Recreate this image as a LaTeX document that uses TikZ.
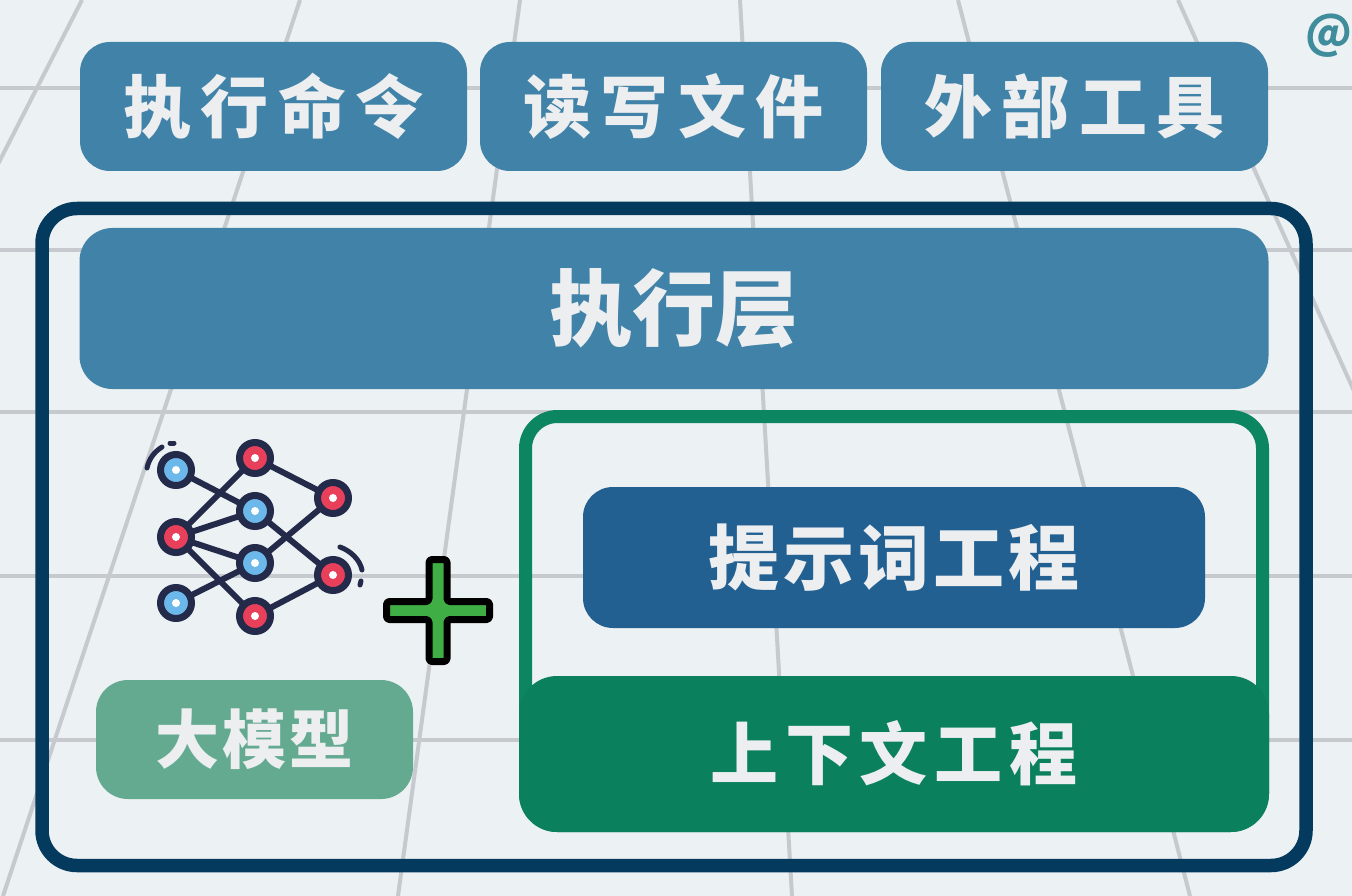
\documentclass[tikz,border=0pt]{standalone}
\usepackage{fontspec}
\newfontfamily\cjk{Noto Sans CJK SC Black}
\usetikzlibrary{positioning}

\definecolor{paper}{HTML}{ECF1F3}
\definecolor{labeltext}{HTML}{ECEEF0}
\definecolor{gridline}{HTML}{C6C9CD}
\definecolor{framedark}{HTML}{053A5F}
\definecolor{steelbox}{HTML}{4082A8}
\definecolor{promptbox}{HTML}{236092}
\definecolor{contextgreen}{HTML}{0A805C}
\definecolor{ringgreen}{HTML}{0C8660}
\definecolor{modelgreen}{HTML}{63AA90}
\definecolor{netdark}{HTML}{232A4A}
\definecolor{netred}{HTML}{E8405A}
\definecolor{netblue}{HTML}{6CB8EA}
\definecolor{plusgreen}{HTML}{3FAE44}
\definecolor{markteal}{HTML}{3F8C9C}

\tikzset{
  gridrule/.style={draw=gridline,line width=4pt},
  box/.style={rectangle,inner sep=0pt,outer sep=0pt,text=labeltext},
  toolbox/.style={box,fill=steelbox,minimum width=387pt,minimum height=129pt,rounded corners=30pt,
    font=\cjk\fontsize{68}{68}\selectfont\addfontfeature{LetterSpace=14}},
  netnode/.style={circle,draw=netdark,line width=7pt,minimum size=31pt,inner sep=0pt,outer sep=0pt,
    path picture={\fill[white] (path picture bounding box.center) circle (4pt);}},
  rednode/.style={netnode,fill=netred},
  bluenode/.style={netnode,fill=netblue},
  netedge/.style={draw=netdark,line width=6pt},
  netarc/.style={draw=netdark,line width=5pt,line cap=round}
}

\begin{document}
\begin{tikzpicture}[x=1pt,y=-1pt]
  \useasboundingbox (0,0) rectangle (1352,896);
  \fill[paper] (0,0) rectangle (1352,896);

  % floor
  \foreach \y in {88,250,412,576,740}
    \draw[gridrule] (0,\y) -- (1352,\y);
  \draw[gridrule] (82,0) -- (-4,168);
  \draw[gridrule] (300,0) -- (3,896);
  \draw[gridrule] (520,0) -- (398,896);
  \draw[gridrule] (740,0) -- (792,896);
  \draw[gridrule] (958,0) -- (1190,896);
  \draw[gridrule] (1178,0) -- (1354,391);

  \node[font=\cjk\fontsize{45}{45}\selectfont,text=markteal,inner sep=0pt] (mark) at (1328.5,36) {@};

  \node[toolbox] (0) at (273.5,106.5) {执行命令};
  \node[toolbox] (1) at (673.5,106.5) {读写文件};
  \node[toolbox] (2) at (1074.5,106.5) {外部工具};

  \node[rectangle,draw=framedark,line width=13.5pt,minimum width=1264pt,minimum height=657pt,rounded corners=35pt,inner sep=0pt] (3) at (674,537) {};

  \node[box,fill=steelbox,minimum width=1189pt,minimum height=161pt,rounded corners=33pt,font=\cjk\fontsize{83}{83}\selectfont] (4) at (674,308.5) {执行层};

  \node[rectangle,draw=ringgreen,line width=13pt,minimum width=737pt,minimum height=409pt,rounded corners=32pt,inner sep=0pt] (5) at (894,621) {};
  \node[box,fill=contextgreen,minimum width=750pt,minimum height=156pt,rounded corners=38pt,font=\cjk\fontsize{68}{68}\selectfont\addfontfeature{LetterSpace=10}] (6) at (894,754) {\raisebox{8pt}{上下文工程}};
  \node[box,fill=promptbox,minimum width=622pt,minimum height=141pt,rounded corners=30pt,font=\cjk\fontsize{71}{71}\selectfont\addfontfeature{LetterSpace=5.5}] (7) at (894,557.5) {提示词工程};

  \node[box,fill=modelgreen,minimum width=317pt,minimum height=119pt,rounded corners=32pt,font=\cjk\fontsize{64}{64}\selectfont\addfontfeature{LetterSpace=5}] (8) at (254.5,739.5) {大模型};

  % network
  \node[bluenode] (9) at (176,470) {};
  \node[rednode] (10) at (255,458) {};
  \node[rednode] (11) at (333,498) {};
  \node[bluenode] (12) at (255,511) {};
  \node[rednode] (13) at (176,537) {};
  \node[bluenode] (14) at (255,563) {};
  \node[rednode] (15) at (333,575) {};
  \node[bluenode] (16) at (176,603) {};
  \node[rednode] (17) at (255,616) {};

  \draw[netedge] (9) -- (12);
  \draw[netedge] (13) -- (10);
  \draw[netedge] (13) -- (12);
  \draw[netedge] (13) -- (14);
  \draw[netedge] (13) -- (17);
  \draw[netedge] (16) -- (14);
  \draw[netedge] (10) -- (11);
  \draw[netedge] (12) -- (15);
  \draw[netedge] (14) -- (11);
  \draw[netedge] (17) -- (15);

  \draw[netarc] (147,468) .. controls (149,459) and (154,452) .. (162,447);
  \draw[netarc] (170,443) -- (174,443);
  \draw[netarc] (340,547) .. controls (351,551) and (360,560) .. (362,570);
  \draw[netarc] (361,581) -- (360,585);

  % plus
  \draw[draw=black,fill=plusgreen,line width=7pt,line join=round,rounded corners=3pt]
    (429,559.5) -- (447,559.5) -- (447,601.5) -- (489.5,601.5) -- (489.5,619.5) -- (447,619.5)
    -- (447,661.5) -- (429,661.5) -- (429,619.5) -- (386.5,619.5) -- (386.5,601.5) -- (429,601.5) -- cycle;
\end{tikzpicture}
\end{document}
